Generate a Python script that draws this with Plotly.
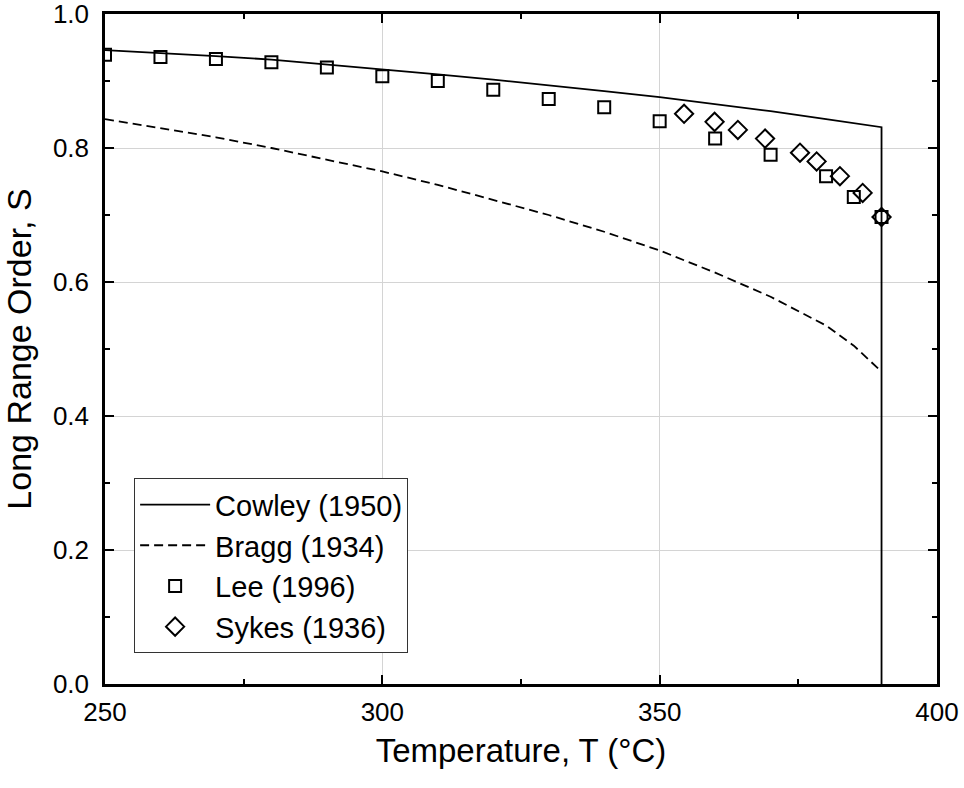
import plotly.graph_objects as go

# Cowley (1950) theory
cowley_T = [250, 260, 270, 280, 290, 300, 310, 320, 330, 340, 350, 360, 370, 380, 390, 390]
cowley_S = [0.946, 0.942, 0.937, 0.932, 0.925, 0.917, 0.910, 0.902, 0.894, 0.885, 0.876, 0.866, 0.855, 0.843, 0.831, 0.0]

# Bragg (1934) theory
bragg_T = [250, 260, 270, 280, 290, 300, 310, 320, 330, 340, 350, 360, 370, 380, 385, 389.5]
bragg_S = [0.843, 0.830, 0.816, 0.800, 0.783, 0.765, 0.745, 0.723, 0.700, 0.675, 0.647, 0.614, 0.578, 0.535, 0.505, 0.470]

# Lee (1996) data
lee_T = [250, 260, 270, 280, 290, 300, 310, 320, 330, 340, 350, 360, 370, 380, 385, 390]
lee_S = [0.939, 0.936, 0.933, 0.928, 0.920, 0.907, 0.900, 0.887, 0.873, 0.861, 0.840, 0.814, 0.790, 0.758, 0.727, 0.697]

# Sykes (1936) data
sykes_T = [354.4, 359.9, 364.1, 369.0, 375.3, 378.3, 382.5, 386.6, 390.0]
sykes_S = [0.851, 0.839, 0.827, 0.814, 0.793, 0.780, 0.758, 0.733, 0.697]

FONT = "Arial, Liberation Sans, sans-serif"

fig = go.Figure()
fig.add_trace(go.Scatter(x=cowley_T, y=cowley_S, mode="lines", name="Cowley (1950)",
                         line=dict(color="black", width=1.8)))
fig.add_trace(go.Scatter(x=bragg_T, y=bragg_S, mode="lines", name="Bragg (1934)",
                         line=dict(color="black", width=1.8, dash="9px,5px")))
fig.add_trace(go.Scatter(x=lee_T, y=lee_S, mode="markers", name="Lee (1996)",
                         marker=dict(symbol="square-open", size=12, color="black",
                                     line=dict(width=2, color="black")), cliponaxis=True))
fig.add_trace(go.Scatter(x=sykes_T, y=sykes_S, mode="markers", name="Sykes (1936)",
                         marker=dict(symbol="diamond-open", size=14, color="black",
                                     line=dict(width=2, color="black")), cliponaxis=True))

axis_common = dict(
    showline=True, linecolor="black", linewidth=2.5, mirror="allticks",
    ticks="inside", ticklen=9, tickwidth=2, tickcolor="black",
    showgrid=True, gridcolor="#d4d4d4", gridwidth=1,
    zeroline=False, automargin=False, ticklabeloverflow="allow",
    tickfont=dict(family=FONT, size=26, color="black"),
)

fig.update_xaxes(
    range=[250, 400], tickvals=[250, 300, 350, 400], ticktext=["250", "300", "350", "400"],
    minor=dict(tickvals=[275, 325, 375], ticks="inside", ticklen=5, tickwidth=2, tickcolor="black", showgrid=False),
    title=dict(text="Temperature, T (°C)", font=dict(family=FONT, size=33, color="black"), standoff=13),
    ticklabelstandoff=3,
    **axis_common,
)
fig.update_yaxes(
    range=[0, 1.0], tickvals=[0, 0.2, 0.4, 0.6, 0.8, 1.0], ticktext=["0.0", "0.2", "0.4", "0.6", "0.8", "1.0"],
    minor=dict(tickvals=[0.1, 0.3, 0.5, 0.7, 0.9], ticks="inside", ticklen=5, tickwidth=2, tickcolor="black", showgrid=False),
    title=dict(text="Long Range Order, S", font=dict(family=FONT, size=34, color="black"), standoff=11),
    ticklabelstandoff=8,
    **axis_common,
)

fig.update_layout(
    width=964, height=788,
    margin=dict(l=105, r=27, t=14, b=104),
    plot_bgcolor="white", paper_bgcolor="white",
    showlegend=True,
    legend=dict(
        x=0.035, y=0.046, xanchor="left", yanchor="bottom",
        bgcolor="white", bordercolor="#333333", borderwidth=1,
        font=dict(family=FONT, size=29, color="black"),
        itemwidth=70, tracegroupgap=0,
    ),
)

fig.write_html("out.html")
